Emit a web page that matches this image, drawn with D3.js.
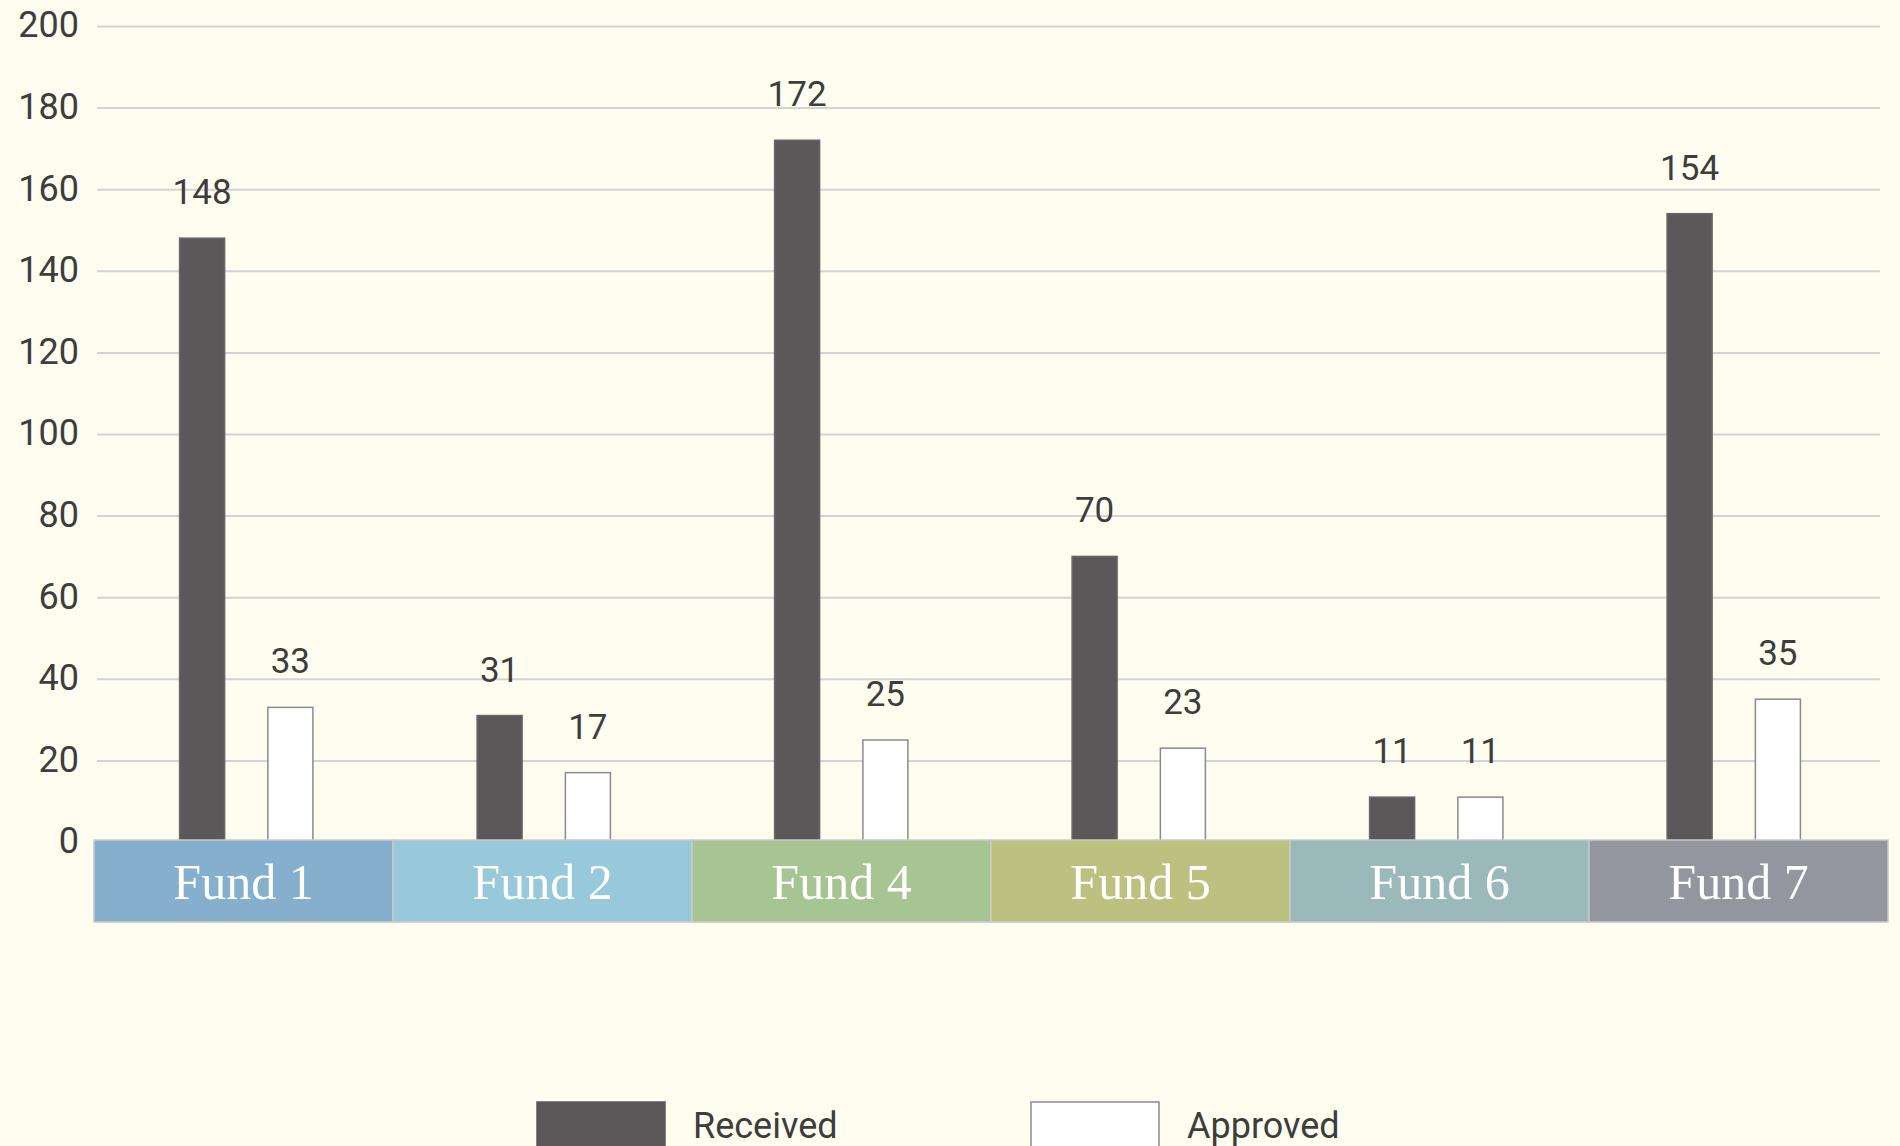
<!DOCTYPE html>
<html>
<head>
<meta charset="utf-8">
<script src="https://cdn.jsdelivr.net/npm/d3@7"></script>
<style>
  body { margin: 0; background: #fffdef; }
  svg { display: block; }
</style>
</head>
<body>
<div id="chart"></div>
<script>
const funds = ["Fund 1", "Fund 2", "Fund 4", "Fund 5", "Fund 6", "Fund 7"];
const received = [148, 31, 172, 70, 11, 154];
const approved = [33, 17, 25, 23, 11, 35];
const yTicks = [0, 20, 40, 60, 80, 100, 120, 140, 160, 180, 200];
const fundColors = ["#85afcd", "#97c9da", "#a6c593", "#bcc17f", "#9bb9ba", "#93969e"];
const seriesNames = ["Received", "Approved"];

const width = 1900, height = 1146;

const svg = d3.select("#chart")
    .append("svg")
    .attr("width", width)
    .attr("height", height);

svg.append("rect")
    .attr("width", width)
    .attr("height", height)
    .attr("fill", "#fffdef");

const yScale = d3.scaleLinear()
    .domain([0, 200])
    .range([842, 26]);

// bars sit on the grid area, the coloured strip is a bit wider
const x0 = d3.scaleBand()
    .domain(funds)
    .range([97.5, 1882.5]);

const x1 = d3.scaleBand()
    .domain(seriesNames)
    .range([0, x0.bandwidth()])
    .paddingInner(0.49)
    .paddingOuter(0.93);

const xStrip = d3.scaleBand()
    .domain(funds)
    .range([94, 1888]);

// grid
const yGrid = d3.axisLeft(yScale)
    .tickValues(yTicks)
    .tickSize(-(1880 - 97))
    .tickFormat("");

svg.append("g")
    .attr("transform", "translate(97,0)")
    .call(yGrid)
    .call(g => g.select(".domain").remove())
    .selectAll("line")
    .attr("stroke", "#d3d3d3")
    .attr("stroke-width", 2);

// y tick labels
const yAxis = d3.axisLeft(yScale)
    .tickValues(yTicks)
    .tickSize(0)
    .tickPadding(0);

svg.append("g")
    .attr("transform", "translate(79,0)")
    .call(yAxis)
    .call(g => g.select(".domain").remove())
    .selectAll("text")
    .attr("dy", "0.3em")
    .style("font", "36px Roboto")
    .style("fill", "#3d3d3d");

// bars
funds.forEach((f, i) => {
    const vals = [received[i], approved[i]];
    seriesNames.forEach((s, j) => {
        const v = vals[j];
        const x = x0(f) + x1(s);
        svg.append("rect")
            .attr("x", x)
            .attr("y", yScale(v))
            .attr("width", x1.bandwidth())
            .attr("height", yScale(0) - yScale(v))
            .attr("fill", j === 0 ? "#5c5859" : "#ffffff")
            .attr("stroke", j === 0 ? "#6a6667" : "#8a8a8a")
            .attr("stroke-width", 1.5);

        svg.append("text")
            .attr("x", x + x1.bandwidth() / 2)
            .attr("y", yScale(v) - 34)
            .attr("text-anchor", "middle")
            .text(v)
            .style("font", "35px Roboto")
            .style("fill", "#3d3d3d");
    });
});

// category strip
funds.forEach((f, i) => {
    svg.append("rect")
        .attr("x", xStrip(f))
        .attr("y", 840)
        .attr("width", xStrip.bandwidth())
        .attr("height", 82)
        .attr("fill", fundColors[i])
        .attr("stroke", "#c9c9c9")
        .attr("stroke-width", 1.5);

    svg.append("text")
        .attr("x", xStrip(f) + xStrip.bandwidth() / 2)
        .attr("y", 899)
        .attr("text-anchor", "middle")
        .text(f)
        .style("font", "50px 'Liberation Serif'")
        .style("fill", "#ffffff");
});

// legend
const legendX = [537, 1031];
seriesNames.forEach((s, j) => {
    svg.append("rect")
        .attr("x", legendX[j])
        .attr("y", 1102)
        .attr("width", 128)
        .attr("height", 60)
        .attr("fill", j === 0 ? "#5c5859" : "#ffffff")
        .attr("stroke", j === 0 ? "#5c5859" : "#8a8a8a")
        .attr("stroke-width", 1.5);

    svg.append("text")
        .attr("x", legendX[j] + 156)
        .attr("y", 1138)
        .text(s)
        .style("font", "36px Roboto")
        .style("fill", "#3d3d3d");
});
</script>
</body>
</html>
